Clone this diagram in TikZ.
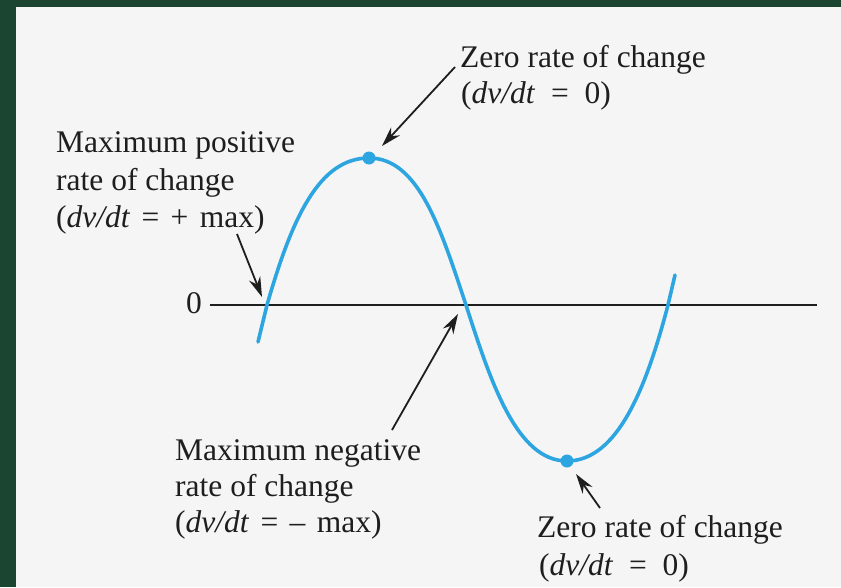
\documentclass[tikz,border=0pt]{standalone}
\usepackage{fontspec}
\setmainfont{Liberation Serif}
\usetikzlibrary{arrows.meta}
\definecolor{frameg}{HTML}{1B4431}
\definecolor{bgc}{HTML}{F5F5F5}
\definecolor{curveb}{HTML}{2CA5E0}
\definecolor{inkc}{HTML}{1E1E1E}
\newcommand{\gp}{\hspace{0.36em}}
\begin{document}
\begin{tikzpicture}[x=1pt,y=-1pt,
  lbl/.style={anchor=base west,inner sep=0pt,font=\fontsize{31.5}{37}\selectfont,text=inkc},
  pointer/.style={draw=inkc,line width=1.8pt,-{Stealth[length=20pt,width=12pt]}},
  wave/.style={draw=curveb,line width=3.6pt,line cap=round},
  dotm/.style={circle,fill=curveb,inner sep=0pt,minimum size=13pt},
  axisline/.style={draw=inkc,line width=1.8pt}]
\fill[frameg] (0,0) rectangle (841,587);
\fill[bgc] (16,7) rectangle (841,587);
\useasboundingbox (0,0) rectangle (841,587);
% axis
\coordinate (ax0) at (210,305);
\coordinate (ax1) at (817,305);
\draw[axisline] (ax0) -- (ax1);
\node[lbl] (zero) at (186,313) {0};
% wave
\coordinate (ws) at (258,342);
\coordinate (z1) at (267,305);
\coordinate (pk) at (369,158);
\coordinate (z2) at (466,305);
\coordinate (tr) at (567,461);
\coordinate (z3) at (668,305);
\coordinate (we) at (675,275);
\draw[wave] (ws) -- (z1)
  .. controls (292,218) and (319,158) .. (pk)
  .. controls (419,158) and (441,230) .. (z2)
  .. controls (491,383) and (517,461) .. (tr)
  .. controls (617,461) and (646,389) .. (z3)
  -- (we);
\node[dotm] (pkdot) at (pk) {};
\node[dotm] (trdot) at (tr) {};
% labels
\node[lbl] (za1) at (460,67) {Zero rate of change};
\node[lbl] (za2) at (461,103) {(\textit{dv/dt}\enspace=\enspace0)};
\node[lbl] (mp1) at (56,152) {Maximum positive};
\node[lbl] (mp2) at (56,190) {rate of change};
\node[lbl] (mp3) at (56,227) {(\textit{dv/dt}\gp=\gp+\gp max)};
\node[lbl] (mn1) at (175,460) {Maximum negative};
\node[lbl] (mn2) at (175,496) {rate of change};
\node[lbl] (mn3) at (175,532) {(\textit{dv/dt}\gp=\gp–\gp max)};
\node[lbl] (zb1) at (537,537) {Zero rate of change};
\node[lbl] (zb2) at (539,575) {(\textit{dv/dt}\enspace=\enspace0)};
% pointers
\coordinate (a1t) at (455,67);
\coordinate (a1h) at (382,146);
\coordinate (a2t) at (237,234);
\coordinate (a2h) at (262,297);
\coordinate (a3t) at (392,430);
\coordinate (a3h) at (458,314);
\coordinate (a4t) at (600,508);
\coordinate (a4h) at (576,474);
\draw[pointer] (a1t) -- (a1h);
\draw[pointer] (a2t) -- (a2h);
\draw[pointer] (a3t) -- (a3h);
\draw[pointer] (a4t) -- (a4h);
\end{tikzpicture}
\end{document}
